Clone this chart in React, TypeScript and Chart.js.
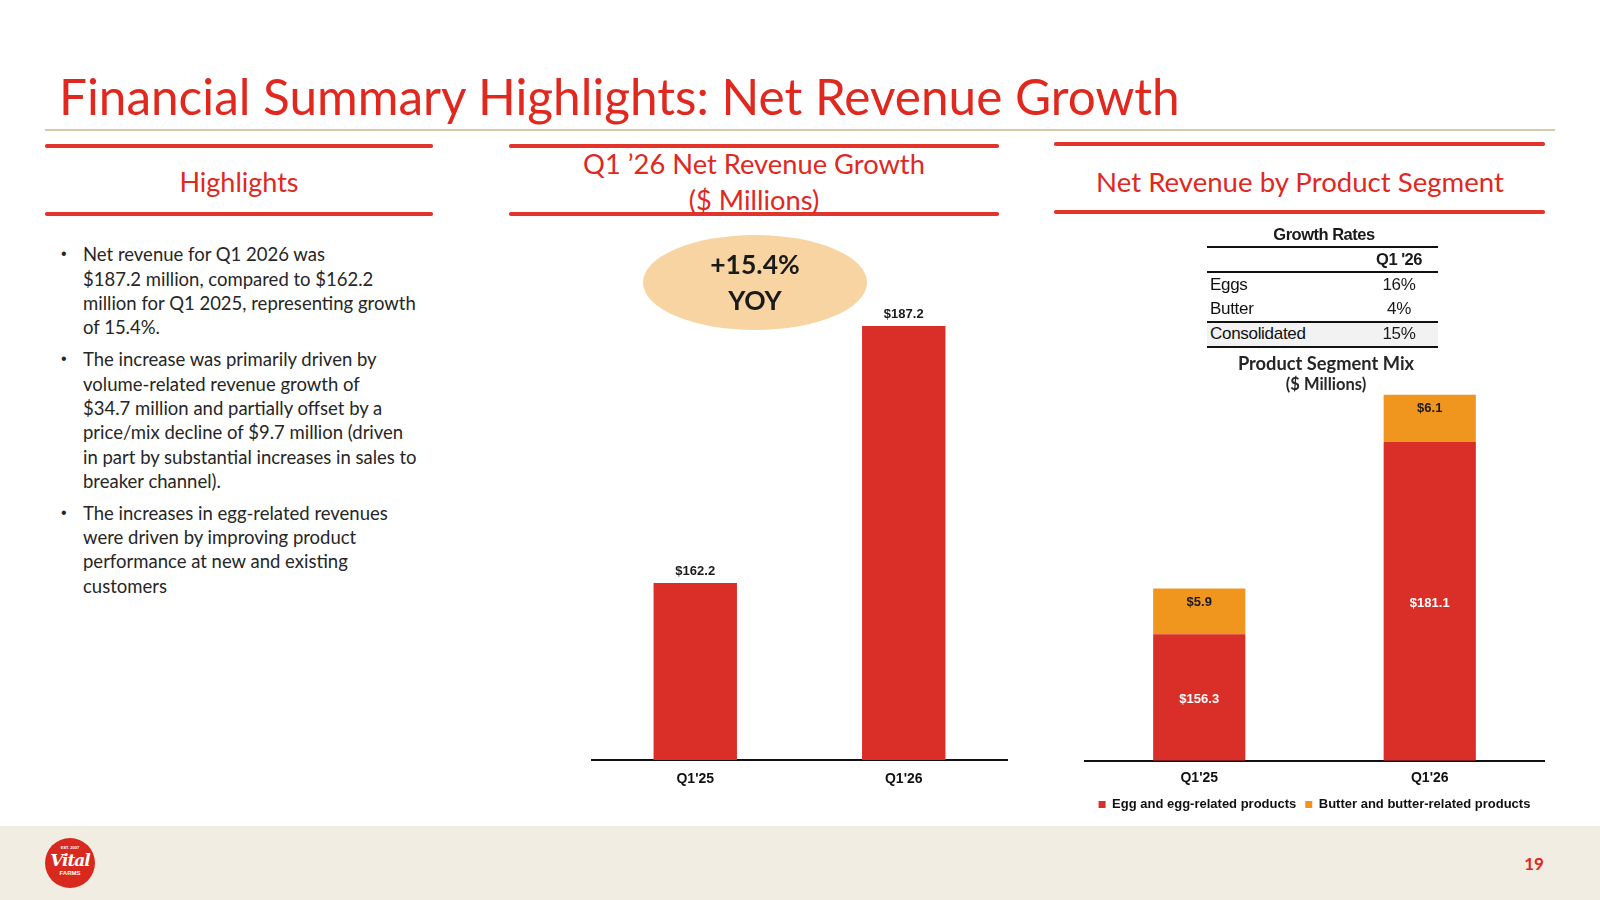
import React, { useEffect, useRef } from "react";
import { Chart, registerables } from "chart.js";

Chart.register(...registerables);

// ---------- data ----------
const revenueCategories = ["Q1'25", "Q1'26"];
const netRevenue = [162.2, 187.2];

const segmentCategories = ["Q1'25", "Q1'26"];
const eggRevenue = [156.3, 181.1];
const butterRevenue = [5.9, 6.1];
const segmentNames = ["Egg and egg-related products", "Butter and butter-related products"];

const growthHeader = "Q1 '26";
const growthRows = ["Eggs", "Butter", "Consolidated"];
const growthValues = ["16%", "4%", "15%"];

const bullets = [
  [
    "Net revenue for Q1 2026 was",
    "$187.2 million, compared to $162.2",
    "million for Q1 2025, representing growth",
    "of 15.4%.",
  ],
  [
    "The increase was primarily driven by",
    "volume-related revenue growth of",
    "$34.7 million and partially offset by a",
    "price/mix decline of $9.7 million (driven",
    "in part by substantial increases in sales to",
    "breaker channel).",
  ],
  [
    "The increases in egg-related revenues",
    "were driven by improving product",
    "performance at new and existing",
    "customers",
  ],
];

// ---------- styles ----------
const RED = "#D92F28";
const ORANGE = "#F0961F";
const TITLE_RED = "#E0281F";
const LINE_RED = "#E2342B";
const SANS = "Lato, 'Noto Sans', sans-serif";
const ARIAL = "'Liberation Sans', Arial, sans-serif";

const fmt = (v: number) => "$" + v.toFixed(1);

const topLabelPlugin = {
  id: "topLabels",
  afterDatasetsDraw(chart: any) {
    const ctx = chart.ctx;
    const meta = chart.getDatasetMeta(0);
    ctx.save();
    ctx.font = `bold 13px ${ARIAL}`;
    ctx.fillStyle = "#1a1a1a";
    ctx.textAlign = "center";
    ctx.textBaseline = "middle";
    meta.data.forEach((el: any, i: number) => {
      const { x, y } = el.getProps(["x", "y"], true);
      ctx.fillText(fmt(chart.data.datasets[0].data[i]), x, y - 12);
    });
    ctx.restore();
  },
};

const segmentLabelPlugin = {
  id: "segmentLabels",
  afterDatasetsDraw(chart: any) {
    const ctx = chart.ctx;
    const area = chart.chartArea;
    ctx.save();
    ctx.font = `bold 13px ${ARIAL}`;
    ctx.textAlign = "center";
    ctx.textBaseline = "middle";
    chart.data.datasets.forEach((ds: any, di: number) => {
      const meta = chart.getDatasetMeta(di);
      meta.data.forEach((el: any, i: number) => {
        const { x, y, base } = el.getProps(["x", "y", "base"], true);
        const bottom = Math.min(base, area.bottom);
        const ty = di === 0 ? (y + bottom) / 2 + 2 : y + 14;
        ctx.fillStyle = di === 0 ? "#ffffff" : "#1a1a1a";
        ctx.fillText(fmt(ds.data[i]), x, ty);
      });
    });
    ctx.restore();
  },
};

function RevenueChart() {
  const ref = useRef<HTMLCanvasElement | null>(null);
  useEffect(() => {
    if (!ref.current) return;
    const chart = new Chart(ref.current, {
      type: "bar",
      data: {
        labels: revenueCategories,
        datasets: [
          {
            label: "Net revenue",
            data: netRevenue,
            backgroundColor: RED,
            borderWidth: 0,
            barPercentage: 0.4,
            categoryPercentage: 1,
          },
        ],
      },
      options: {
        responsive: false,
        animation: false,
        devicePixelRatio: 1,
        layout: { padding: 0 },
        plugins: { legend: { display: false }, tooltip: { enabled: false } },
        scales: {
          x: {
            grid: { display: false, drawTicks: false },
            border: { display: true, color: "#111111", width: 2 },
            ticks: { color: "#111111", font: { family: ARIAL, size: 14, weight: "bold" }, padding: 11 },
            afterFit: (s: any) => {
              s.height = 30;
            },
          },
          y: { display: false, min: 145, max: 197.5 },
        },
      } as any,
      plugins: [topLabelPlugin],
    });
    return () => chart.destroy();
  }, []);
  return (
    <canvas
      ref={ref}
      width={417}
      height={570}
      style={{ position: "absolute", left: 591, top: 220, width: 417, height: 570 }}
    />
  );
}

function SegmentChart() {
  const ref = useRef<HTMLCanvasElement | null>(null);
  useEffect(() => {
    if (!ref.current) return;
    const chart = new Chart(ref.current, {
      type: "bar",
      data: {
        labels: segmentCategories,
        datasets: [
          {
            label: segmentNames[0],
            data: eggRevenue,
            backgroundColor: RED,
            borderWidth: 0,
            barPercentage: 0.4,
            categoryPercentage: 1,
          },
          {
            label: segmentNames[1],
            data: butterRevenue,
            backgroundColor: ORANGE,
            borderWidth: 0,
            barPercentage: 0.4,
            categoryPercentage: 1,
          },
        ],
      },
      options: {
        responsive: false,
        animation: false,
        devicePixelRatio: 1,
        layout: { padding: 0 },
        plugins: {
          tooltip: { enabled: false },
          legend: {
            display: true,
            position: "bottom",
            labels: {
              boxWidth: 7,
              boxHeight: 7,
              padding: 9,
              color: "#111111",
              font: { family: ARIAL, size: 13, weight: "bold" },
            },
          },
        },
        scales: {
          x: {
            stacked: true,
            grid: { display: false, drawTicks: false },
            border: { display: true, color: "#111111", width: 2 },
            ticks: { color: "#111111", font: { family: ARIAL, size: 14, weight: "bold" }, padding: 9 },
            afterFit: (s: any) => {
              s.height = 28.5;
            },
          },
          y: { stacked: true, display: false, min: 140, max: 187.8 },
        },
      } as any,
      plugins: [segmentLabelPlugin],
    });
    return () => chart.destroy();
  }, []);
  return (
    <canvas
      ref={ref}
      width={461}
      height={431}
      style={{ position: "absolute", left: 1084, top: 390, width: 461, height: 431 }}
    />
  );
}

function CText(props: {
  cx: number;
  cy: number;
  size: number;
  color?: string;
  bold?: boolean;
  family?: string;
  spacing?: number;
  children: React.ReactNode;
}) {
  const lh = Math.round(props.size * 1.4);
  return (
    <div
      style={{
        position: "absolute",
        left: props.cx - 400,
        width: 800,
        top: props.cy - lh / 2,
        height: lh,
        lineHeight: lh + "px",
        textAlign: "center",
        whiteSpace: "nowrap",
        fontFamily: props.family || SANS,
        fontSize: props.size,
        fontWeight: props.bold ? 700 : 400,
        color: props.color || "#1a1a1a",
        letterSpacing: props.spacing ? props.spacing + "px" : undefined,
      }}
    >
      {props.children}
    </div>
  );
}

function HLine(props: { x1: number; x2: number; y: number; h: number; color: string; round?: boolean }) {
  return (
    <div
      style={{
        position: "absolute",
        left: props.x1,
        width: props.x2 - props.x1,
        top: props.y - props.h / 2,
        height: props.h,
        background: props.color,
        borderRadius: props.round ? props.h / 2 : 0,
      }}
    />
  );
}

export default function App() {
  const paraStarts = [254.5, 359.5, 513];
  const lineStep = 24.3;
  const tableRowsY = [285, 309, 334];
  return (
    <div
      style={{
        position: "fixed",
        left: 0,
        top: 0,
        width: 1600,
        height: 900,
        background: "#ffffff",
        overflow: "hidden",
      }}
    >
      {/* Title */}
      <div
        style={{
          position: "absolute",
          left: 59,
          top: 96 - 35,
          height: 70,
          lineHeight: "70px",
          fontFamily: SANS,
          fontSize: 49.5,
          color: TITLE_RED,
          whiteSpace: "nowrap",
        }}
      >
        Financial Summary Highlights: Net Revenue Growth
      </div>
      <HLine x1={45} x2={1555} y={130} h={2.5} color="#D8CAA8" />

      {/* Column headers */}
      <HLine x1={45} x2={433} y={146} h={3.5} color={LINE_RED} round />
      <HLine x1={45} x2={433} y={214} h={3.5} color={LINE_RED} round />
      <CText cx={239} cy={182} size={27} color={TITLE_RED}>
        Highlights
      </CText>

      <HLine x1={509} x2={999} y={146} h={3.5} color={LINE_RED} round />
      <HLine x1={509} x2={999} y={214} h={3.5} color={LINE_RED} round />
      <CText cx={754} cy={164} size={27.3} color={TITLE_RED}>
        Q1 ’26 Net Revenue Growth
      </CText>
      <CText cx={754} cy={200} size={27.3} color={TITLE_RED}>
        ($ Millions)
      </CText>

      <HLine x1={1054} x2={1545} y={144} h={3.5} color={LINE_RED} round />
      <HLine x1={1054} x2={1545} y={212} h={3.5} color={LINE_RED} round />
      <CText cx={1300} cy={181} size={27.6} color={TITLE_RED}>
        Net Revenue by Product Segment
      </CText>

      {/* Bullets */}
      {bullets.map((lines, pi) => (
        <div key={pi}>
          <div
            style={{
              position: "absolute",
              left: 61,
              top: paraStarts[pi] - lineStep / 2,
              lineHeight: lineStep + "px",
              fontFamily: ARIAL,
              fontSize: 16,
              color: "#262626",
            }}
          >
            •
          </div>
          {lines.map((ln, li) => (
            <div
              key={li}
              style={{
                position: "absolute",
                left: 83,
                top: paraStarts[pi] + li * lineStep - lineStep / 2,
                height: lineStep,
                lineHeight: lineStep + "px",
                fontFamily: SANS,
                fontSize: 18.5,
                color: "#262626",
                whiteSpace: "nowrap",
              }}
            >
              {ln}
            </div>
          ))}
        </div>
      ))}

      {/* Middle chart */}
      <RevenueChart />
      <div
        style={{
          position: "absolute",
          left: 643,
          top: 235,
          width: 224,
          height: 95,
          borderRadius: "50%",
          background: "#F8D4A2",
        }}
      />
      <CText cx={755} cy={264.5} size={26.5} bold>
        +15.4%
      </CText>
      <CText cx={755} cy={300.5} size={26.5} bold>
        YOY
      </CText>

      {/* Growth rates table */}
      <CText cx={1324} cy={234} size={16.5} bold family={ARIAL} spacing={-0.5}>
        Growth Rates
      </CText>
      <div
        style={{ position: "absolute", left: 1207, width: 231, top: 322, height: 25, background: "#F2F2F2" }}
      />
      <HLine x1={1207} x2={1438} y={247} h={2} color="#111111" />
      <HLine x1={1207} x2={1438} y={272} h={2} color="#111111" />
      <HLine x1={1207} x2={1438} y={322} h={2} color="#111111" />
      <HLine x1={1207} x2={1438} y={347} h={2} color="#111111" />
      <CText cx={1399} cy={259} size={16.5} bold family={ARIAL} spacing={-0.5}>
        {growthHeader}
      </CText>
      {growthRows.map((r, i) => (
        <React.Fragment key={r}>
          <div
            style={{
              position: "absolute",
              left: 1210,
              top: tableRowsY[i] - 12,
              height: 24,
              lineHeight: "24px",
              fontFamily: ARIAL,
              fontSize: 17,
              letterSpacing: "-0.3px",
              color: "#111111",
              whiteSpace: "nowrap",
            }}
          >
            {r}
          </div>
          <CText cx={1399} cy={tableRowsY[i]} size={17} family={ARIAL} spacing={-0.3}>
            {growthValues[i]}
          </CText>
        </React.Fragment>
      ))}

      <CText cx={1326} cy={363} size={18.3} bold color="#262626">
        Product Segment Mix
      </CText>
      <CText cx={1326} cy={384.5} size={16.5} bold color="#262626">
        ($ Millions)
      </CText>

      {/* Right chart */}
      <SegmentChart />

      {/* Footer */}
      <div style={{ position: "absolute", left: 0, top: 826, width: 1600, height: 74, background: "#F2EDE3" }} />
      <div
        style={{
          position: "absolute",
          left: 45,
          top: 838,
          width: 50,
          height: 50,
          borderRadius: "50%",
          background: "#D9281E",
          color: "#ffffff",
          textAlign: "center",
          overflow: "hidden",
        }}
      >
        <div style={{ fontFamily: ARIAL, fontSize: 4, fontWeight: 700, marginTop: 7, lineHeight: "5px" }}>
          EST. 2007
        </div>
        <div
          style={{
            fontFamily: "'DejaVu Serif', serif",
            fontStyle: "italic",
            fontWeight: 700,
            fontSize: 17,
            lineHeight: "20px",
            letterSpacing: "-1px",
          }}
        >
          Vital
        </div>
        <div style={{ fontFamily: ARIAL, fontSize: 6, fontWeight: 700, lineHeight: "7px" }}>FARMS</div>
      </div>
      <CText cx={1534} cy={863.5} size={17} bold color={TITLE_RED}>
        19
      </CText>
    </div>
  );
}
